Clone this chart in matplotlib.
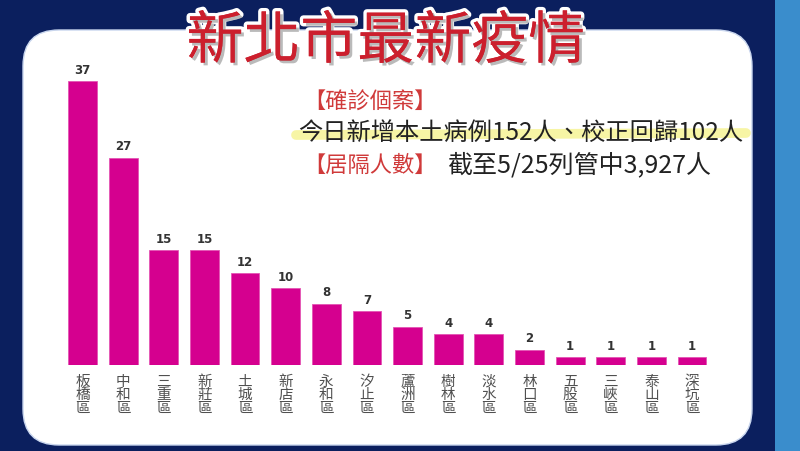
import matplotlib
matplotlib.use('Agg')
import matplotlib.pyplot as plt
import matplotlib.patheffects as pe
from matplotlib.patches import FancyBboxPatch, Rectangle

plt.rcParams['font.family'] = ['Noto Sans CJK TC', 'DejaVu Sans']

#data
districts = ['板橋區', '中和區', '三重區', '新莊區', '土城區', '新店區', '永和區', '汐止區',
             '蘆洲區', '樹林區', '淡水區', '林口區', '五股區', '三峽區', '泰山區', '深坑區']
cases = [37, 27, 15, 15, 12, 10, 8, 7, 5, 4, 4, 2, 1, 1, 1, 1]

title = '新北市最新疫情'
head_cases = '【確診個案】'
line_cases = '今日新增本土病例152人、校正回歸102人'
head_quar = '【居隔人數】'
line_quar = '截至5/25列管中3,927人'

W, H = 800, 451

def fx(x):
    return x / W

def fy(y):
    return 1 - y / H

fig = plt.figure(figsize=(W / 100, H / 100), dpi=100)
fig.patch.set_facecolor('#0b1f5e')

#right light blue strip
fig.add_artist(Rectangle((fx(775), 0), fx(800) - fx(775), 1, transform=fig.transFigure,
                         facecolor='#3a8dcc', edgecolor='none', zorder=-2))

#white rounded panel
fig.add_artist(FancyBboxPatch((fx(23), fy(445)), fx(752) - fx(23), fy(30) - fy(445),
                              boxstyle='round,pad=0,rounding_size=0.045',
                              transform=fig.transFigure, facecolor='white',
                              edgecolor='#c9d6ee', linewidth=1.0,
                              mutation_aspect=W / H, zorder=-1))

#bar axes
ax = fig.add_axes([fx(62.2), fy(365), fx(712.3) - fx(62.2), fy(57.8) - fy(365)])
ax.set_zorder(2)
ax.set_facecolor('none')
x = list(range(len(districts)))
bars = ax.bar(x, cases, width=0.71, color='#d5008f', edgecolor='#e455b4', linewidth=0.6)
ax.set_xlim(-0.5, len(districts) - 0.5)
ax.set_ylim(0, 40)
for s in ax.spines.values():
    s.set_visible(False)
ax.set_yticks([])
ax.set_xticks(x)
ax.set_xticklabels(['\n'.join(d) for d in districts], fontsize=10.5, color='#505050',
                   linespacing=0.95)
ax.tick_params(axis='x', length=0, pad=7)

for xi, v in zip(x, cases):
    ax.annotate(str(v), (xi, v), xytext=(0, 3), textcoords='offset points',
                ha='center', va='bottom', fontsize=8.5, fontweight='bold',
                color='#333333', family='DejaVu Sans')

#title
fig.text(fx(386), fy(42), title, ha='center', va='center', fontsize=41,
         fontweight='medium', color='#cc1f2d', zorder=5,
         path_effects=[pe.withStroke(linewidth=5, foreground='white'),
                       pe.SimplePatchShadow(offset=(2, -2), shadow_rgbFace='#777777', alpha=0.5),
                       pe.Normal()])

#text block
fig.add_artist(plt.Line2D([fx(296), fx(746)], [fy(135), fy(133)], transform=fig.transFigure,
                          color='#f3ef6a', alpha=0.6, linewidth=7, solid_capstyle='round'))
fig.text(fx(303), fy(102), head_cases, ha='left', va='center', fontsize=16, color='#d03a3a')
fig.text(fx(298), fy(133), line_cases, ha='left', va='center', fontsize=17.5,
         fontweight='medium', color='#222222')
fig.text(fx(303), fy(165), head_quar, ha='left', va='center', fontsize=16, color='#d03a3a')
fig.text(fx(447), fy(165), line_quar, ha='left', va='center', fontsize=18,
         fontweight='medium', color='#222222')

fig.savefig('out.png', dpi=100, facecolor=fig.get_facecolor())
